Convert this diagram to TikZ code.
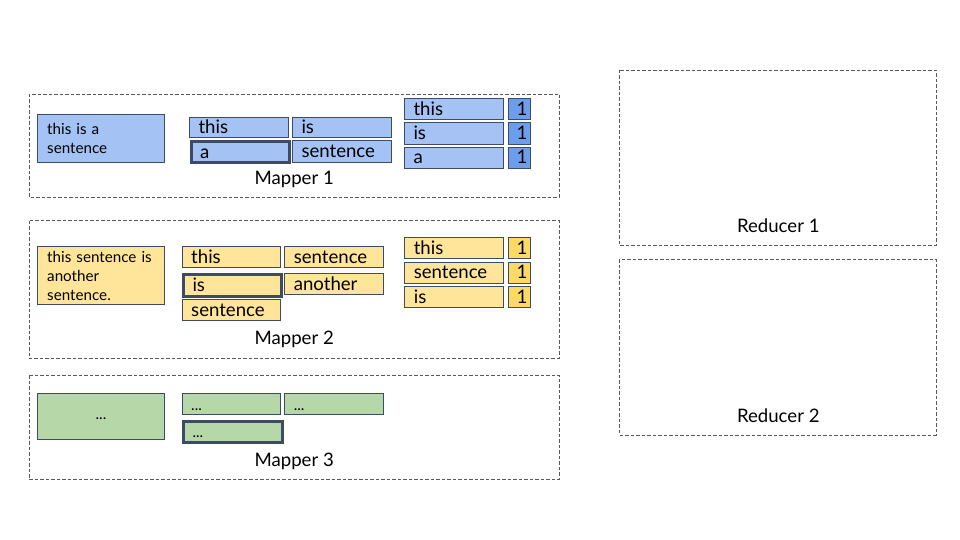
\documentclass[tikz,border=0pt]{standalone}
\usepackage{fontspec}
\setmainfont{Lato}
\definecolor{edge}{HTML}{3D4B64}
\definecolor{grpline}{HTML}{595959}
\definecolor{bluefill}{HTML}{A4C2F4}
\definecolor{bluedark}{HTML}{6D9EEB}
\definecolor{yellowfill}{HTML}{FFE599}
\definecolor{yellowdark}{HTML}{FFD966}
\definecolor{greenfill}{HTML}{B6D7A8}
\newcommand{\wordfont}{\fontsize{18.6}{21}\selectfont}
\newcommand{\inputfont}{\fontsize{15.2}{19}\selectfont}
\tikzset{
  grp/.style={draw=grpline, line width=0.8pt, dash pattern=on 3.5pt off 2pt},
  inbox/.style={draw=edge, fill=#1, line width=1pt, anchor=north west,
    inner xsep=10pt, inner ysep=2pt, text width=107.6pt, align=left,
    font=\inputfont},
  wordbox/.style={draw=edge, fill=#1, line width=1pt, anchor=north west,
    inner xsep=9pt, inner ysep=0pt, align=left, font=\wordfont,
    text height=14pt, text depth=2pt},
  chosen/.style={line width=3pt},
  numbox/.style={draw=edge, fill=#1, line width=1pt, anchor=north west,
    inner xsep=3pt, inner ysep=0pt, text width=16.3pt, align=right,
    font=\wordfont, text height=14pt, text depth=2pt},
  grplabel/.style={anchor=base, font=\wordfont, inner sep=0pt}
}
\begin{document}
\begin{tikzpicture}[x=1pt, y=-1pt]
\useasboundingbox (0,0) rectangle (960,540);

% ---------- Mapper 1 ----------
\draw[grp] (29,94) rectangle (559,197);
\node[inbox=bluefill, minimum height=48pt] (in1) at (36.7,114.3) {this is a\\sentence};
\node[wordbox=bluefill, text width=81pt, minimum height=20.6pt] (m1this) at (189,116.7) {this};
\node[wordbox=bluefill, text width=81pt, minimum height=20.6pt] (m1is) at (292,116.7) {is};
\node[wordbox=bluefill, chosen, text width=80pt, minimum height=21pt] (m1a) at (189.5,140.5) {a};
\node[wordbox=bluefill, text width=81pt, minimum height=21.5pt] (m1sent) at (292,140.5) {sentence};
\node[grplabel] (lab1) at (294.2,184) {Mapper 1};
\node[wordbox=bluefill, text width=81pt, minimum height=21.5pt] (p1k1) at (404,98) {this};
\node[numbox=bluedark, minimum height=21.5pt] (p1v1) at (507.7,98) {1};
\node[wordbox=bluefill, text width=81pt, minimum height=21.5pt] (p1k2) at (404,122.3) {is};
\node[numbox=bluedark, minimum height=21.5pt] (p1v2) at (507.7,122.3) {1};
\node[wordbox=bluefill, text width=81pt, minimum height=21.5pt] (p1k3) at (404,146.7) {a};
\node[numbox=bluedark, minimum height=21.5pt] (p1v3) at (507.7,146.7) {1};

% ---------- Mapper 2 ----------
\draw[grp] (29,220.7) rectangle (559,358.3);
\node[inbox=yellowfill, minimum height=58.6pt] (in2) at (36.7,245.7) {this sentence is\\another\\sentence.};
\node[wordbox=yellowfill, text width=80.3pt, minimum height=21.6pt] (m2this) at (181.7,245.7) {this};
\node[wordbox=yellowfill, text width=81pt, minimum height=21.6pt] (m2sent) at (284.3,245.7) {sentence};
\node[wordbox=yellowfill, chosen, text width=80pt, minimum height=21.5pt] (m2is) at (182,273) {is};
\node[wordbox=yellowfill, text width=81pt, minimum height=21.6pt] (m2anot) at (284.3,272.7) {another};
\node[wordbox=yellowfill, text width=80.3pt, minimum height=21pt] (m2sent2) at (181.7,299.3) {sentence};
\node[grplabel] (lab2) at (294.2,344) {Mapper 2};
\node[wordbox=yellowfill, text width=81pt, minimum height=21.6pt] (p2k1) at (404.3,236.7) {this};
\node[numbox=yellowdark, minimum height=21.6pt] (p2v1) at (507.7,236.7) {1};
\node[wordbox=yellowfill, text width=81pt, minimum height=21pt] (p2k2) at (404.3,261.7) {sentence};
\node[numbox=yellowdark, minimum height=21pt] (p2v2) at (507.7,261.7) {1};
\node[wordbox=yellowfill, text width=81pt, minimum height=21.6pt] (p2k3) at (404.3,285.7) {is};
\node[numbox=yellowdark, minimum height=21.6pt] (p2v3) at (507.7,285.7) {1};

% ---------- Mapper 3 ----------
\draw[grp] (29,375) rectangle (559,479.3);
\node[inbox=greenfill, minimum height=46pt, align=center, text height=8pt, text depth=2pt] (in3) at (36.7,393.3) {...};
\node[wordbox=greenfill, text width=80.3pt, minimum height=21.6pt, font=\inputfont] (m3w1) at (181.7,392.7) {...};
\node[wordbox=greenfill, text width=81pt, minimum height=21.6pt, font=\inputfont] (m3w2) at (284.3,392.7) {...};
\node[wordbox=greenfill, chosen, text width=81pt, minimum height=21.5pt, font=\inputfont] (m3w3) at (182,419.7) {...};
\node[grplabel] (lab3) at (294.2,466.7) {Mapper 3};

% ---------- Reducers ----------
\draw[grp] (619.3,70) rectangle (936,245);
\node[grplabel] (rlab1) at (778.3,232.7) {Reducer 1};
\draw[grp] (619.3,259.3) rectangle (936,435);
\node[grplabel] (rlab2) at (778.3,422.7) {Reducer 2};
\end{tikzpicture}
\end{document}
